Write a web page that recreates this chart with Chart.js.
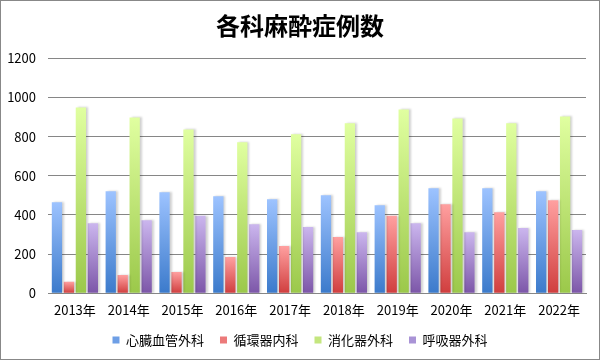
<!DOCTYPE html>
<html>
<head>
<meta charset="utf-8">
<script src="https://cdn.jsdelivr.net/npm/chart.js@4"></script>
<style>
  body { margin: 0; background: #fff; }
  #box { width: 600px; height: 360px; box-sizing: border-box; border: 1px solid #888; }
</style>
</head>
<body>
<div id="box"><canvas id="myChart" width="598" height="358"></canvas></div>
<script>
var anos = ['2013年', '2014年', '2015年', '2016年', '2017年', '2018年', '2019年', '2020年', '2021年', '2022年']
var cardio = [465, 521, 516, 496, 480, 501, 450, 537, 537, 521]
var circ = [59, 93, 109, 185, 241, 287, 396, 455, 414, 475]
var digest = [949, 898, 837, 771, 812, 868, 939, 893, 868, 903]
var resp = [358, 373, 396, 353, 338, 312, 358, 312, 333, 323]
var ticksY = [0, 200, 400, 600, 800, 1000, 1200]

var fonte = "'Noto Sans CJK JP', 'Noto Sans', sans-serif"

// gradiente de cada barra (claro em cima, escuro embaixo)
function grad(cTop, cBottom, solid) {
  return function (context) {
    var chart = context.chart
    if (context.type !== 'data' || !chart.chartArea || !chart.scales.y) return solid
    var y = chart.scales.y
    var top = y.getPixelForValue(context.raw)
    var bottom = y.getPixelForValue(0)
    if (!(bottom > top)) return solid
    var g = chart.ctx.createLinearGradient(0, top, 0, bottom)
    g.addColorStop(0, cTop)
    g.addColorStop(1, cBottom)
    return g
  }
}

var sombra = {
  id: 'sombra',
  beforeDatasetsDraw: function (chart) {
    var c = chart.ctx
    c.save()
    c.shadowColor = 'rgba(0,0,0,0.18)'
    c.shadowOffsetX = 2
    c.shadowOffsetY = 0
    c.shadowBlur = 2
  },
  afterDatasetsDraw: function (chart) {
    chart.ctx.restore()
  }
}

var ctx = document.getElementById('myChart').getContext('2d')
var myChart = new Chart(ctx, {
  type: 'bar',
  data: {
    labels: anos,
    datasets: [{
      label: '心臓血管外科',
      data: cardio,
      backgroundColor: grad('#9dc3ff', '#3b7acb', '#4f86d0')
    }, {
      label: '循環器内科',
      data: circ,
      backgroundColor: grad('#ffa0a0', '#d03e3e', '#de5c5c')
    }, {
      label: '消化器外科',
      data: digest,
      backgroundColor: grad('#e0ffa0', '#9bc84a', '#b0d865')
    }, {
      label: '呼吸器外科',
      data: resp,
      backgroundColor: grad('#cbb6ee', '#7c56a8', '#9a7cc4')
    }]
  },
  options: {
    responsive: false,
    animation: false,
    categoryPercentage: 0.89,
    barPercentage: 0.86,
    layout: { padding: { left: 0, right: 0, top: 0, bottom: 2.5 } },
    plugins: {
      title: {
        display: true,
        text: '各科麻酔症例数',
        color: '#000',
        font: { family: fonte, size: 24, weight: 'bold' },
        padding: { top: 10, bottom: 18.5 }
      },
      legend: {
        position: 'bottom',
        labels: {
          color: '#000',
          boxWidth: 7,
          boxHeight: 7,
          padding: 16,
          font: { family: fonte, size: 13 },
          generateLabels: function (chart) {
            var cores = ['#6e9fe6', '#ec7a7a', '#c4e67e', '#a993d6']
            return chart.data.datasets.map(function (ds, i) {
              return {
                text: ds.label,
                fillStyle: cores[i],
                strokeStyle: cores[i],
                lineWidth: 0,
                hidden: false,
                datasetIndex: i
              }
            })
          }
        }
      },
      tooltip: { enabled: false }
    },
    scales: {
      x: {
        grid: { display: false, drawTicks: false },
        border: { display: true, color: '#868686', width: 1 },
        ticks: { color: '#000', padding: 9, font: { family: fonte, size: 13 }, maxRotation: 0 },
        afterFit: function (s) { s.height = 24.2 }
      },
      y: {
        min: 0,
        max: 1200,
        afterBuildTicks: function (s) { s.ticks = ticksY.map(function (v) { return { value: v } }) },
        grid: { color: '#868686', lineWidth: 1, drawTicks: false },
        border: { display: false },
        ticks: {
          color: '#000',
          padding: 12,
          font: { family: fonte, size: 13 },
          callback: function (v) { return String(v) }
        },
        afterFit: function (s) { s.width = 47 }
      },
      // eixo vazio so pra dar a margem da direita
      y2: {
        position: 'right',
        grid: { display: false, drawTicks: false },
        border: { display: false },
        ticks: { display: false },
        afterFit: function (s) { s.width = 13 }
      }
    }
  },
  plugins: [sombra]
})
</script>
</body>
</html>
